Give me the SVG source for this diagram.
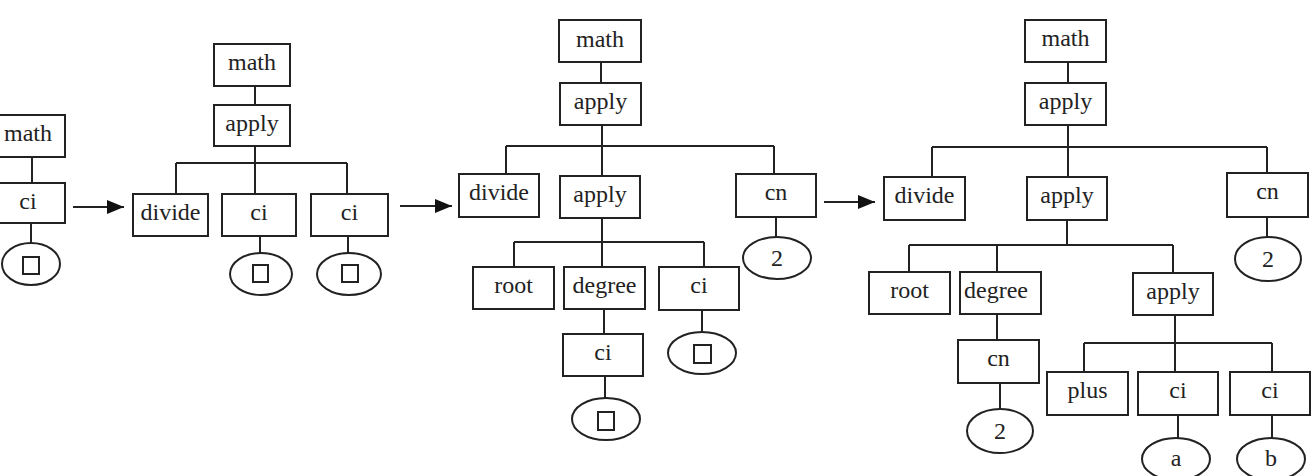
<svg xmlns="http://www.w3.org/2000/svg" width="1314" height="476" viewBox="0 0 1314 476">
<defs>
<style>
rect.n{fill:#fff;stroke:#222;stroke-width:2}
ellipse.n{fill:#fff;stroke:#222;stroke-width:2}
rect.sq{fill:none;stroke:#222;stroke-width:2}
text{font-family:"Liberation Serif","Times New Roman",serif;font-size:24px;fill:#222;text-anchor:middle}
#connectors path{fill:none;stroke:#222;stroke-width:2}
</style>
<marker id="ah" markerUnits="userSpaceOnUse" markerWidth="18" markerHeight="15" refX="17" refY="7" orient="auto">
<path d="M0,0 L17,7 L0,14 z" fill="#111"/>
</marker>
</defs>
<rect width="1314" height="476" fill="#fff"/>
<g id="connectors">
<path d="M32,157V183M31,223V243"/>
<path d="M73,207H124" marker-end="url(#ah)"/>
<path d="M255,86V105M255,146V163M176,163H347M176,163V194M255,163V194M347,163V194M260,236V253M348,236V253"/>
<path d="M400,206H452" marker-end="url(#ah)"/>
<path d="M601,62V83M602,125V146M506,146H774M506,146V174M602,146V176M774,146V174M776,217V237M602,218V242M514,242H704M514,242V267M602,242V267M704,242V267M604,309V334M702,310V332M605,376V398"/>
<path d="M824,202H875" marker-end="url(#ah)"/>
<path d="M1068,62V83M1068,125V147M932,147H1267M932,147V177M1068,147V177M1267,147V173M1267,217V237M1067,220V245M909,245H1173M909,245V272M997,245V272M1173,245V273M997,314V340M1000,383V409M1175,315V343M1084,343H1272M1084,343V372M1175,343V372M1272,343V372M1178,415V438M1272,415V438"/>
</g>
<g id="t1-math"><rect class="n" x="-10" y="115" width="75" height="42"/><text x="28" y="141">math</text></g>
<g id="t1-ci"><rect class="n" x="-10" y="183" width="75" height="40"/><text x="28" y="209">ci</text></g>
<g id="t1-leaf"><ellipse class="n" cx="31" cy="264" rx="29" ry="21"/><rect class="sq" x="23" y="257" width="16" height="17"/></g>

<g id="t2-math"><rect class="n" x="214" y="44" width="76" height="42"/><text x="252" y="70">math</text></g>
<g id="t2-apply"><rect class="n" x="214" y="105" width="76" height="41"/><text x="252" y="131">apply</text></g>
<g id="t2-divide"><rect class="n" x="133" y="194" width="75" height="42"/><text x="170.5" y="220">divide</text></g>
<g id="t2-ci1"><rect class="n" x="222" y="194" width="74" height="42"/><text x="259" y="220">ci</text></g>
<g id="t2-ci2"><rect class="n" x="311" y="194" width="77" height="42"/><text x="349.5" y="220">ci</text></g>
<g id="t2-leaf1"><ellipse class="n" cx="261" cy="274" rx="31" ry="21"/><rect class="sq" x="253" y="265" width="15" height="17"/></g>
<g id="t2-leaf2"><ellipse class="n" cx="349" cy="274" rx="32" ry="21"/><rect class="sq" x="342" y="265" width="16" height="17"/></g>

<g id="t3-math"><rect class="n" x="559" y="20" width="82" height="42"/><text x="600" y="47">math</text></g>
<g id="t3-apply"><rect class="n" x="560" y="83" width="81" height="42"/><text x="600.5" y="109">apply</text></g>
<g id="t3-divide"><rect class="n" x="459" y="174" width="80" height="43"/><text x="499" y="200">divide</text></g>
<g id="t3-apply2"><rect class="n" x="560" y="176" width="80" height="42"/><text x="600" y="202">apply</text></g>
<g id="t3-cn"><rect class="n" x="736" y="174" width="80" height="43"/><text x="776" y="200">cn</text></g>
<g id="t3-two"><ellipse class="n" cx="777" cy="258" rx="34" ry="21"/><text x="777" y="266">2</text></g>
<g id="t3-root"><rect class="n" x="473" y="267" width="81" height="42"/><text x="513.5" y="293">root</text></g>
<g id="t3-degree"><rect class="n" x="564" y="267" width="81" height="42"/><text x="604.5" y="293">degree</text></g>
<g id="t3-ci"><rect class="n" x="659" y="267" width="80" height="43"/><text x="699" y="293">ci</text></g>
<g id="t3-ci2"><rect class="n" x="563" y="334" width="80" height="42"/><text x="603" y="360">ci</text></g>
<g id="t3-leaf1"><ellipse class="n" cx="606" cy="419" rx="34" ry="21"/><rect class="sq" x="598" y="412" width="16" height="18"/></g>
<g id="t3-leaf2"><ellipse class="n" cx="702" cy="353" rx="34" ry="21"/><rect class="sq" x="694" y="345" width="17" height="18"/></g>

<g id="t4-math"><rect class="n" x="1025" y="20" width="81" height="42"/><text x="1065.5" y="46">math</text></g>
<g id="t4-apply"><rect class="n" x="1025" y="83" width="81" height="42"/><text x="1065.5" y="109">apply</text></g>
<g id="t4-divide"><rect class="n" x="884" y="177" width="81" height="43"/><text x="924.5" y="203">divide</text></g>
<g id="t4-apply2"><rect class="n" x="1027" y="177" width="80" height="43"/><text x="1067" y="203">apply</text></g>
<g id="t4-cn"><rect class="n" x="1227" y="173" width="81" height="44"/><text x="1267.5" y="199">cn</text></g>
<g id="t4-two"><ellipse class="n" cx="1268" cy="259" rx="33" ry="22"/><text x="1268" y="267">2</text></g>
<g id="t4-root"><rect class="n" x="869" y="272" width="81" height="42"/><text x="909.5" y="298">root</text></g>
<g id="t4-degree"><rect class="n" x="960" y="272" width="81" height="42"/><text x="996" y="298">degree</text></g>
<g id="t4-apply3"><rect class="n" x="1133" y="273" width="80" height="42"/><text x="1173" y="299">apply</text></g>
<g id="t4-cn2"><rect class="n" x="958" y="340" width="81" height="43"/><text x="998.5" y="366">cn</text></g>
<g id="t4-two2"><ellipse class="n" cx="1000" cy="431" rx="33" ry="22"/><text x="1000" y="439">2</text></g>
<g id="t4-plus"><rect class="n" x="1047" y="372" width="81" height="43"/><text x="1087.5" y="398">plus</text></g>
<g id="t4-ci1"><rect class="n" x="1138" y="372" width="80" height="43"/><text x="1178" y="398">ci</text></g>
<g id="t4-ci2"><rect class="n" x="1230" y="372" width="80" height="43"/><text x="1270" y="398">ci</text></g>
<g id="t4-a"><ellipse class="n" cx="1176" cy="459" rx="34" ry="21"/><text x="1176" y="466">a</text></g>
<g id="t4-b"><ellipse class="n" cx="1271" cy="459" rx="34" ry="21"/><text x="1271" y="466">b</text></g>
</svg>
